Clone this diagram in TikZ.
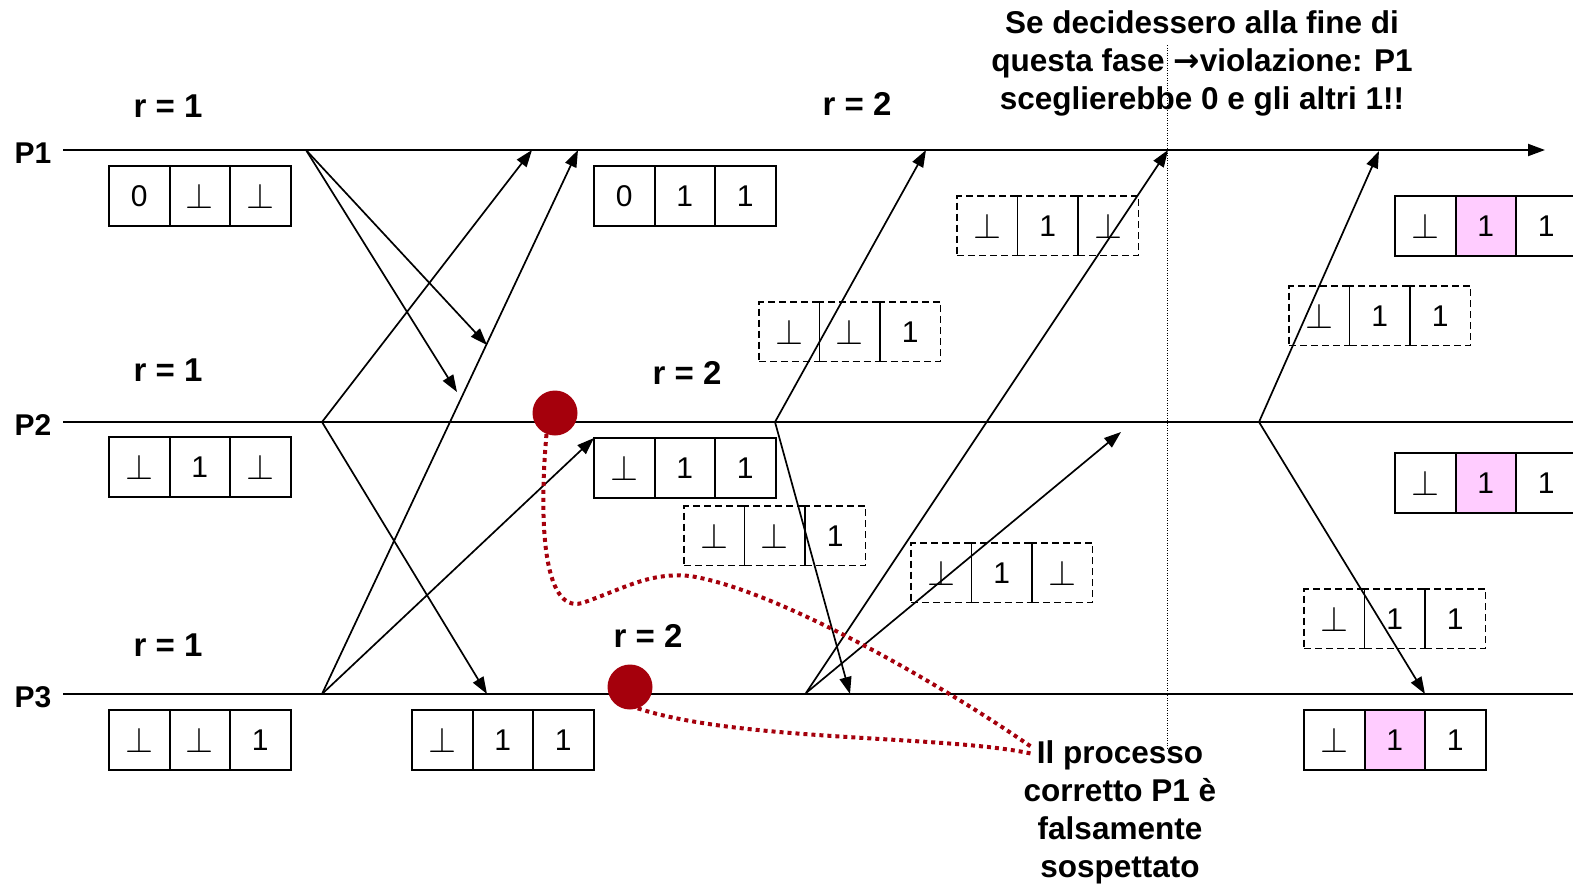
\documentclass[tikz,border=0pt]{standalone}
\usepackage{graphicx}
\usepackage{fontspec}
\setmainfont{Liberation Sans}
\newfontfamily\symfont{DejaVu Sans}
\usetikzlibrary{arrows.meta}

\definecolor{dotred}{RGB}{165,0,12}
\definecolor{cellpink}{RGB}{255,204,255}

\newcommand{\vuoto}{\scalebox{1.45}{$\perp$}}
% three adjacent cells: name, left x, top y, outer style, middle style, values
\newcommand{\registro}[8]{%
  \node[#4, anchor=north west] (#1-1) at (#2,#3) {#6};
  \node[#5, anchor=west] (#1-2) at (#1-1.east) {#7};
  \node[#4, anchor=west] (#1-3) at (#1-2.east) {#8};
}

\tikzset{
  lane/.style={line width=2bp},
  tip/.style={-{Triangle[length=17bp,width=12bp]}},
  msg/.style={line width=1.7bp, tip},
  cell/.style={draw, line width=2bp, minimum width=60.5bp, minimum height=59.5bp,
    inner sep=0pt, outer sep=0pt, font=\fontsize{30bp}{30bp}\selectfont},
  ghost/.style={cell, line width=1.5bp, dash pattern=on 7bp off 4bp},
  hit/.style={cell, fill=cellpink},
  proc/.style={inner sep=0pt, font=\bfseries\fontsize{30bp}{30bp}\selectfont},
  phase/.style={inner sep=0pt, font=\bfseries\fontsize{33bp}{33bp}\selectfont},
  note/.style={align=center, inner sep=0pt, font=\bfseries\fontsize{31.5bp}{38bp}\selectfont},
  suspect/.style={circle, fill=dotred, minimum size=45bp, inner sep=0pt},
  trail/.style={draw=dotred, line width=4bp, dash pattern=on 4bp off 4bp},
  guide/.style={line width=1bp, dash pattern=on 1bp off 1.5bp},
}

\begin{document}
\begin{tikzpicture}[x=1bp, y=-1bp]
\useasboundingbox (0,0) rectangle (1573,889);

% process time lines
\node[proc] (lp1) at (33,153) {P1};
\node[proc] (lp2) at (33,425) {P2};
\node[proc] (lp3) at (33,697) {P3};
\coordinate (p1s) at (63,150);  \coordinate (p1e) at (1545,150);
\coordinate (p2s) at (63,422);  \coordinate (p2e) at (1590,422);
\coordinate (p3s) at (63,694);  \coordinate (p3e) at (1590,694);
\draw[lane, tip] (p1s) -- (p1e);
\draw[lane] (p2s) -- (p2e);
\draw[lane] (p3s) -- (p3e);

% round labels
\node[phase] (r11) at (168,106) {r = 1};
\node[phase] (r21) at (168,370) {r = 1};
\node[phase] (r31) at (168,645) {r = 1};
\node[phase] (r12) at (857,104) {r = 2};
\node[phase] (r22) at (687,373) {r = 2};
\node[phase] (r32) at (648,636) {r = 2};

% estimates held by the processes
\registro{e1a}{109}{166}{cell}{cell}{0}{\vuoto}{\vuoto}
\registro{e2a}{109}{437}{cell}{cell}{\vuoto}{1}{\vuoto}
\registro{e3a}{109}{710}{cell}{cell}{\vuoto}{\vuoto}{1}
\registro{e1b}{594}{166}{cell}{cell}{0}{1}{1}
\registro{e2b}{594}{438}{cell}{cell}{\vuoto}{1}{1}
\registro{e3b}{412}{710}{cell}{cell}{\vuoto}{1}{1}
\registro{g1}{759}{302}{ghost}{ghost}{\vuoto}{\vuoto}{1}
\registro{g2}{957}{196}{ghost}{ghost}{\vuoto}{1}{\vuoto}
\registro{g3}{684}{506}{ghost}{ghost}{\vuoto}{\vuoto}{1}
\registro{g4}{911}{543}{ghost}{ghost}{\vuoto}{1}{\vuoto}
\registro{g5}{1289}{286}{ghost}{ghost}{\vuoto}{1}{1}
\registro{g6}{1304}{589}{ghost}{ghost}{\vuoto}{1}{1}
\registro{d1}{1395}{196}{cell}{hit}{\vuoto}{1}{1}
\registro{d2}{1395}{453}{cell}{hit}{\vuoto}{1}{1}
\registro{d3}{1304}{710}{cell}{hit}{\vuoto}{1}{1}

% send and receive events
\coordinate (s11) at (306,150);
\coordinate (s21) at (322,422);
\coordinate (s31) at (322,694);
\coordinate (m1) at (487,345);
\coordinate (m2) at (457,392);
\coordinate (m3) at (532,150);
\coordinate (m4) at (487,694);
\coordinate (m5) at (578,150);
\coordinate (s22) at (775,422);
\coordinate (s32) at (806,693);
\coordinate (m6) at (926,150);
\coordinate (m7) at (850,694);
\coordinate (m8) at (1168,150);
\coordinate (m9) at (1121,432);
\coordinate (s23) at (1259,422);
\coordinate (m10) at (1379,151);
\coordinate (m11) at (1425,694);

% round 1 messages
\draw[msg] (s11) -- (m1);
\draw[msg] (s11) -- (m2);
\draw[msg] (s21) -- (m3);
\draw[msg] (s21) -- (m4);
\draw[msg] (s31) -- (m5);
\draw[msg] (s31) -- (e2b-1.north west);

% round 2 messages
\draw[msg] (s22) -- (m6);
\draw[msg] (s22) -- (m7);
\draw[msg] (s32) -- (m8);
\draw[msg] (s32) -- (m9);

% round 3 messages
\draw[msg] (s23) -- (m10);
\draw[msg] (s23) -- (m11);

% end of the phase
\coordinate (vtop) at (1167,45);
\coordinate (vbot) at (1167,748);
\draw[guide] (vtop) -- (vbot);

\node[note, anchor=north] (warn) at (1202,10)
  {Se decidessero alla fine di\\questa fase {\symfont\bfseries →}violazione: P1\\sceglierebbe 0 e gli altri 1!!};

% false suspicion of P1
\node[suspect] (x2) at (555,413) {};
\node[suspect] (x3) at (630,687) {};
\node[note, anchor=north] (susp) at (1120,740)
  {Il processo\\corretto P1 è\\falsamente\\sospettato};
\coordinate (hintA) at (1033,748);
\coordinate (hintB) at (1033,754);
\draw[trail] (x2.-112) .. controls (538,530) and (545,618) .. (585,602)
  .. controls (625,588) and (650,572) .. (690,576)
  .. controls (780,590) and (950,690) .. (hintA);
\draw[trail] (x3.-70) .. controls (740,742) and (950,735) .. (hintB);
\end{tikzpicture}
\end{document}
